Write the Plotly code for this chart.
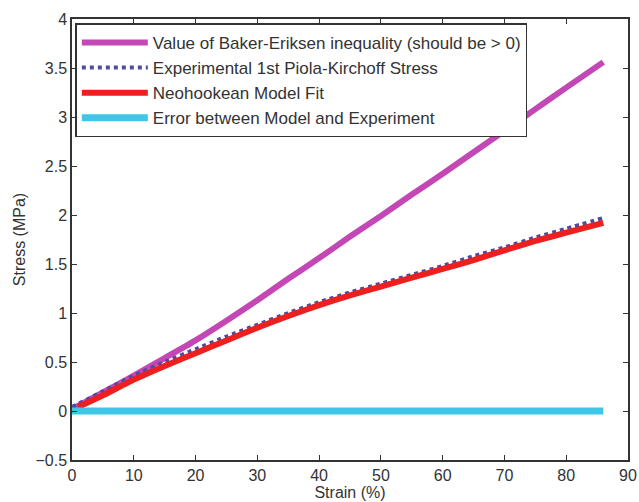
import plotly.graph_objects as go

strain = [0, 5, 10, 15, 20, 25, 30, 35, 40, 45, 50, 55, 60, 65, 70, 75, 80, 86]
baker_eriksen = [0.02, 0.19, 0.36, 0.54, 0.72, 0.92, 1.13, 1.35, 1.56, 1.78, 1.99, 2.21, 2.42, 2.64, 2.86, 3.08, 3.30, 3.56]
experimental = [0.04, 0.20, 0.36, 0.50, 0.63, 0.76, 0.88, 1.00, 1.11, 1.21, 1.30, 1.39, 1.48, 1.58, 1.67, 1.77, 1.86, 1.97]
neo_strain = [1, 5, 10, 15, 20, 25, 30, 35, 40, 45, 50, 55, 60, 65, 70, 75, 80, 86]
neohookean = [0.04, 0.16, 0.32, 0.46, 0.59, 0.72, 0.85, 0.97, 1.08, 1.18, 1.27, 1.36, 1.45, 1.54, 1.64, 1.735, 1.82, 1.92]
error = [0.0, 0.0, 0.0, 0.0, 0.0, 0.0, -0.01, 0.0, 0.0, 0.0, 0.0, 0.0, 0.0, 0.0, -0.01, 0.0, 0.0, 0.0]

names = [
    "Value of Baker-Eriksen inequality (should be > 0)",
    "Experimental 1st Piola-Kirchoff Stress",
    "Neohookean Model Fit",
    "Error between Model and Experiment",
]

fig = go.Figure()
fig.add_trace(go.Scatter(x=strain, y=baker_eriksen, mode="lines", name=names[0], legendgroup="a",
                         line=dict(color="#c447b6", width=6, shape="spline", smoothing=0.6)))
fig.add_trace(go.Scatter(x=strain, y=experimental, mode="lines", name=names[1], legendgroup="b",
                         line=dict(color="#4c4ca0", width=4, dash="dot", shape="spline", smoothing=0.6)))
fig.add_trace(go.Scatter(x=neo_strain, y=neohookean, mode="lines", name=names[2], legendgroup="c",
                         line=dict(color="#ee1f1f", width=6, shape="spline", smoothing=0.6)))
fig.add_trace(go.Scatter(x=strain, y=error, mode="lines", name=names[3], legendgroup="d",
                         line=dict(color="#3fc6e6", width=7)))

axis_common = dict(
    showline=True, linecolor="#333", linewidth=1.5, mirror="ticks",
    ticks="inside", ticklen=5, tickcolor="#333", showgrid=False, zeroline=False,
    automargin=False,
    tickfont=dict(family="Liberation Sans, Arial", size=16, color="#333"),
)

fig.update_layout(
    width=639, height=502,
    margin=dict(l=72, r=11, t=19, b=42),
    paper_bgcolor="white", plot_bgcolor="white",
    font=dict(family="Liberation Sans, Arial", size=16, color="#333"),
    showlegend=True,
    legend=dict(x=0.006, y=0.99, xanchor="left", yanchor="top",
                bordercolor="#333", borderwidth=1.5, bgcolor="white",
                font=dict(size=17, color="#333"), itemwidth=66,
                tracegroupgap=3, traceorder="normal"),
    xaxis=dict(range=[0, 90], dtick=10, title=dict(text="Strain (%)", standoff=2, font=dict(size=16)), **axis_common),
    yaxis=dict(range=[-0.5, 4], dtick=0.5, title=dict(text="Stress (MPa)", standoff=6, font=dict(size=16)), **axis_common),
)

fig.write_html("out.html", config={"displayModeBar": False},
               post_script="document.body.style.margin='0';document.body.style.padding='0';")
